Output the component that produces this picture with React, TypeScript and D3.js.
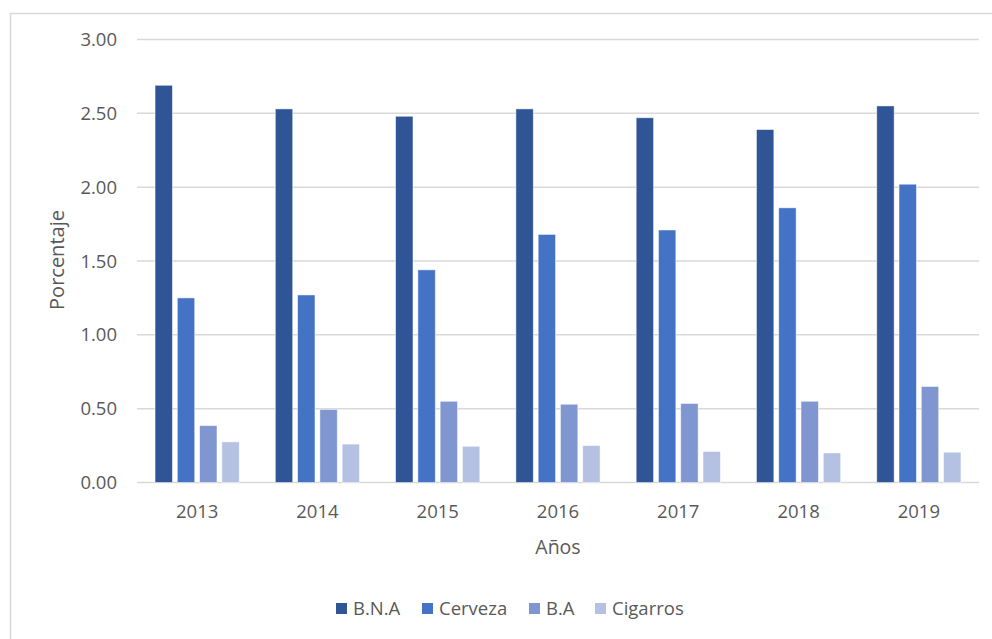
import React from "react";
import * as d3 from "d3";

const years = ["2013", "2014", "2015", "2016", "2017", "2018", "2019"];
const seriesNames = ["B.N.A", "Cerveza", "B.A", "Cigarros"];
const bna = [2.69, 2.53, 2.48, 2.53, 2.47, 2.39, 2.55];
const cerveza = [1.25, 1.27, 1.44, 1.68, 1.71, 1.86, 2.02];
const ba = [0.385, 0.495, 0.55, 0.53, 0.535, 0.55, 0.65];
const cigarros = [0.275, 0.26, 0.245, 0.25, 0.21, 0.2, 0.205];
const yTicks = [0, 0.5, 1, 1.5, 2, 2.5, 3];
const colors = ["#2F5597", "#4472C4", "#7F96D1", "#B4C1E2"];

export default function App() {
  const W = 992, H = 639;
  const left = 137, right = 979, top = 39.5, bottom = 482.5;
  const allSeries = [bna, cerveza, ba, cigarros];
  const x0 = d3.scaleBand<string>().domain(years).range([left, right]).paddingInner(0.3).paddingOuter(0.15);
  const x1 = d3.scaleBand<string>().domain(seriesNames).range([0, x0.bandwidth()]).paddingInner(0.22);
  const y = d3.scaleLinear().domain([0, 3]).range([bottom, top]);
  const font = "'Open Sans', sans-serif";
  const legendX = [336, 422, 529, 595];

  return (
    <svg width={W} height={H} style={{ position: "absolute", left: 0, top: 0 }}>
      <rect x={0} y={0} width={W} height={H} fill="#fff" />
      <rect x={10.5} y={13.5} width={1000} height={700} fill="#fff" stroke="#d9d9d9" strokeWidth={1.5} />
      {yTicks.map((t) => (
        <g key={t}>
          <line x1={left} x2={right} y1={y(t)} y2={y(t)} stroke="#d9d9d9" strokeWidth={1.5} />
          <text x={117} y={y(t)} dy="0.36em" textAnchor="end" fontFamily={font} fontSize={18.5} fill="#595959">
            {d3.format(".2f")(t)}
          </text>
        </g>
      ))}
      {years.map((yr, i) => (
        <g key={yr} transform={`translate(${x0(yr)},0)`}>
          {allSeries.map((s, j) => (
            <rect
              key={j}
              x={x1(seriesNames[j])}
              y={y(s[i])}
              width={x1.bandwidth()}
              height={bottom - y(s[i])}
              fill={colors[j]}
              stroke="#ffffff"
              strokeOpacity={0.6}
              strokeWidth={0.8}
            />
          ))}
          <text
            x={x0.bandwidth() / 2}
            y={511}
            dy="0.36em"
            textAnchor="middle"
            fontFamily={font}
            fontSize={18.5}
            fill="#595959"
          >
            {yr}
          </text>
        </g>
      ))}
      <text x={558} y={547} dy="0.36em" textAnchor="middle" fontFamily={font} fontSize={19.5} fill="#595959">
        Años
      </text>
      <text
        transform={`translate(57,260) rotate(-90)`}
        dy="0.36em"
        textAnchor="middle"
        fontFamily={font}
        fontSize={20}
        fill="#595959"
      >
        Porcentaje
      </text>
      {seriesNames.map((n, j) => (
        <g key={n}>
          <rect x={legendX[j]} y={603} width={11} height={11} fill={colors[j]} />
          <text x={legendX[j] + 17} y={608.5} dy="0.36em" fontFamily={font} fontSize={18.5} fill="#595959">
            {n}
          </text>
        </g>
      ))}
    </svg>
  );
}
